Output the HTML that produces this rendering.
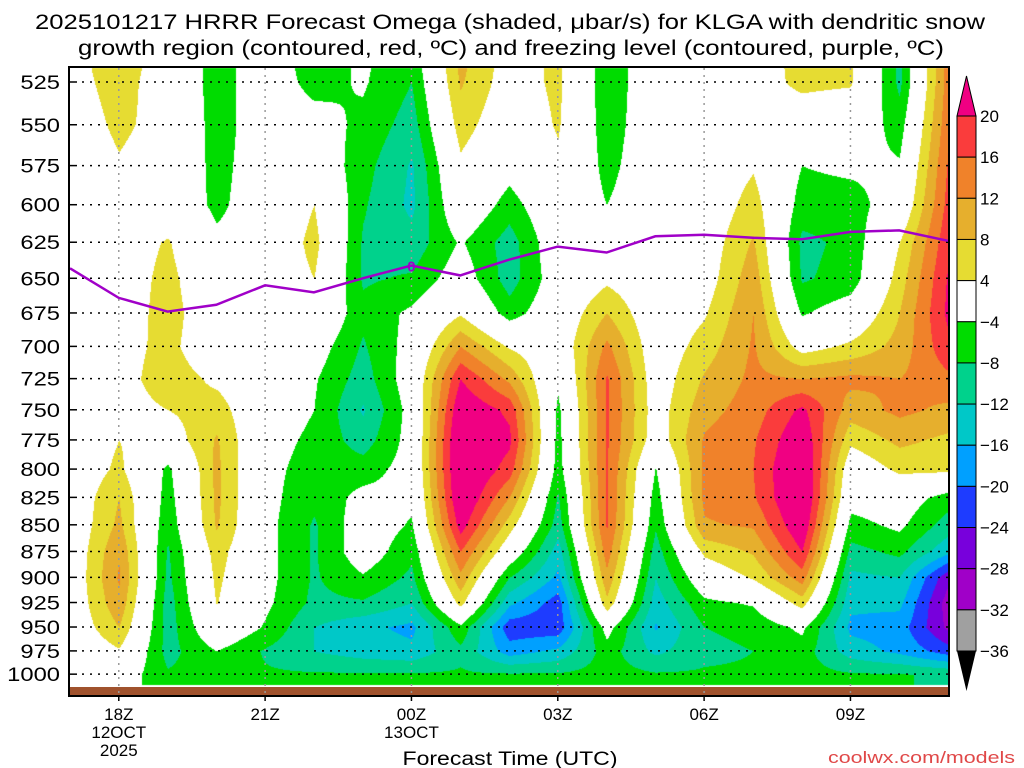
<!DOCTYPE html>
<html><head><meta charset="utf-8"><style>
html,body{margin:0;padding:0;background:#fff;width:1024px;height:768px;overflow:hidden}
#wrap{position:relative;width:1024px;height:768px}
canvas,svg{position:absolute;left:0;top:0}
text{font-family:"Liberation Sans",sans-serif;fill:#000}
</style></head><body>
<div id="wrap">
<canvas id="cv" width="1024" height="768"></canvas>
<svg id="sv" width="1024" height="768"></svg>
</div>
<script>
// ---- data ----
const hours = [17,18,19,20,21,22,23,24,25,26,27,28,29,30,31,32,33,34,35];
const levels = [500,525,550,575,600,625,650,675,700,725,750,775,800,825,850,875,900,925,950,975,1000];
// omega (microbar/s) per forecast hour, values ordered by levels above
const omegaByHour = [
[2,2,1,0,0,0,0,0,0,0,0,0,0,0,0,0,0,0,0,-1,-2],
[8,6,5,3.5,2,1,1,1,2,2,2,4,5,8,9,11.5,12.5,11,8,3.5,-1],
[1,1,2,1,0,4.5,5.5,6,5.5,6.5,4,1,-5,-6,-7,-8.5,-9,-10,-10,-9.5,-7.5],
[-6,-6,-6,-5.5,-5,-3,-1,0,-0.5,3,6,8.5,9,9,8.5,6,5,4.2,1,-4,-6],
[-1,-1,-1,-1,-1,-1,0,0,0,0,-1,-2,-2.5,-2.5,-2.5,-2.5,-2.5,-3,-4.5,-8.5,-7.5],
[-7,-5.5,-2,0,4,5.5,4,2,-1.5,-3.5,-4,-5,-6,-7,-8.5,-8.5,-8.5,-9,-12,-12,-7.5],
[-3,-3.5,-5,-6.5,-7.5,-8.5,-8.5,-7,-8.5,-10,-12.5,-10,-6,-2.5,-1,-1,-4.5,-8.5,-15,-14,-7.5],
[-6,-8,-10,-12.5,-13,-10.5,-7.5,-3,-2,-1,-2,-2,-2,-3,-4.5,-7,-9,-12,-17,-15,-7.5],
[10,8.5,6,3,1,-3.5,-1,3.5,12,20,24,26,26,25,22,16,11,5.5,-5,-9,-7.5],
[2,1.5,0,-2,-6,-10,-10,-6,3.5,11,19,21,18,12,6,0,-8,-15,-22.5,-18,-7.5],
[5,5,4.5,3,1,0,-1,0,0,-3,-5,-5.5,-6,-8.5,-10,-14,-17,-22,-22.5,-15,-7.5],
[-7,-7,-6.5,-5.5,-4,0,3,8,13,16.5,16.5,16.5,16.5,16.5,16.5,14,11,7,-2,-6,-6.5],
[0,0,0,0,0,0,0,0,0.5,1,1.5,1,-4.2,-6,-7.5,-10,-12,-14,-16.5,-13,-7.5],
[0,0,0,0,0,1,1.5,3.5,6,8.5,10.5,12.5,13,13,11.5,5,0,-5,-8,-9,-7.5],
[1,2,2,3.5,6,8.5,10.5,12,12.5,13,14,15.5,16,15.5,12.5,8.5,4.5,-3.5,-7,-8,-7.5],
[6,5,1,-4,-6,-9,-8.5,-4.5,2,12,21,24,26,26,24,20,14,6,-3,-6,-6.5],
[4.5,4.5,0,-3,-6,-7,-6.5,-1,5,13,10,5,0,-2,-5.5,-9.5,-13,-15,-17,-14,-7.5],
[-9,-9,-6,-3.5,-1,4,6,8,9.5,12,13,9,5,-1,-3,-7,-12,-15,-18,-17,-7.8],
[14,14,15,16.5,17.5,19,20.5,21,19,15,11,7,5,-6,-10,-15,-27,-30,-29,-22,-8.5]
];
const freezeLevel = [643,664,674,669,655,660,650,641,648,637,628,632,621,620,622,623,618,617,624];
const yTickLabels = [525,550,575,600,625,650,675,700,725,750,775,800,825,850,875,900,925,950,975,1000];
const xTickHours = [18,21,24,27,30,33];
const xTickLabels = ["18Z","21Z","00Z","03Z","06Z","09Z"];
const cbValues = [20,16,12,8,4,-4,-8,-12,-16,-20,-24,-28,-32,-36];
const cbLabels = ["20","16","12","8","4","\u22124","\u22128","\u221212","\u221216","\u221220","\u221224","\u221228","\u221232","\u221236"];
const binColors = ["#a0a0a0","#a000c8","#7800dc","#1e3cff","#00a0ff","#00c8c8","#00d28c","#00dc00","#ffffff","#e6dc32","#e6af2d","#f0822a","#fa3c3c"];

// ---- axes ----
const X0=70, X1=948, Y0=68, Y1=695;
function xOf(h){return X0+(h-17)*(X1-X0)/18;}
function yOf(p){return 82+919*Math.log(p/525);}
function pOf(y){return 525*Math.exp((y-82)/919);}
function colorFor(v){
  if(v>=20) return "#f00082";
  if(v<-36) return "#000000";
  if(v>=-4 && v<4) return "#ffffff";
  if(v>=4) return binColors[9+Math.min(3,Math.floor((v-4)/4))];
  return binColors[Math.max(0,Math.floor((v+36)/4))];
}
function hexRGB(c){return [parseInt(c.substr(1,2),16),parseInt(c.substr(3,2),16),parseInt(c.substr(5,2),16)];}

// ---- shading ----
const cv=document.getElementById('cv');
const ctx=cv.getContext('2d');
ctx.fillStyle="#fff";ctx.fillRect(0,0,1024,768);
const img=ctx.getImageData(0,0,1024,768);
const yData=685;
for(let y=Y0;y<yData;y++){
  let ri=(pOf(y)-levels[0])/25; ri=Math.max(0,Math.min(levels.length-1,ri));
  const r0=Math.min(levels.length-2,Math.floor(ri)), fr=ri-r0;
  for(let x=X0;x<=X1;x++){
    let hi=(x-X0)/((X1-X0)/18); hi=Math.max(0,Math.min(hours.length-1,hi));
    const c0=Math.min(hours.length-2,Math.floor(hi)), fc=hi-c0;
    const a=omegaByHour[c0][r0],b=omegaByHour[c0+1][r0],c=omegaByHour[c0][r0+1],d=omegaByHour[c0+1][r0+1];
    const v=(a*(1-fc)+b*fc)*(1-fr)+(c*(1-fc)+d*fc)*fr;
    const rgb=hexRGB(colorFor(v));
    const i=(y*1024+x)*4;
    img.data[i]=rgb[0];img.data[i+1]=rgb[1];img.data[i+2]=rgb[2];img.data[i+3]=255;
  }
}
ctx.putImageData(img,0,0);

// ---- overlay ----
const NS="http://www.w3.org/2000/svg";
const sv=document.getElementById('sv');
function mk(tag,attrs,parent){const e=document.createElementNS(NS,tag);for(const k in attrs)e.setAttribute(k,attrs[k]);(parent||sv).appendChild(e);return e;}

const ground=mk('rect',{x:X0,y:687,width:X1-X0,height:Y1-687,fill:'#a0522d'});



yTickLabels.forEach(p=>{
  const y=yOf(p);
  const g=mk('line',{x1:X0+12,x2:X1,y1:y,y2:y,stroke:'#000','stroke-width':1.5,'stroke-dasharray':'2 6'});
  
  
  const tk=mk('line',{x1:X0,x2:X0+7,y1:y,y2:y,stroke:'#000','stroke-width':1.5});
  
  
  const s=String(p);
  const t=mk('text',{x:60,y:y+7,'text-anchor':'end','font-size':19,textLength:s.length*13.2,lengthAdjust:'spacingAndGlyphs'});
  t.textContent=s;
  
  
});
xTickHours.forEach((h,i)=>{
  const x=xOf(h);
  const g=mk('line',{x1:x,x2:x,y1:Y0,y2:Y1,stroke:'#999','stroke-width':1.5,'stroke-dasharray':'2 5'});
  
  
  const tk=mk('line',{x1:x,x2:x,y1:Y1,y2:Y1+6,stroke:'#000','stroke-width':1.5});
  
  
  const t=mk('text',{x:x,y:720,'text-anchor':'middle','font-size':17});
  t.textContent=xTickLabels[i];
  
  
});
const dateLbls=[[18,"12OCT"],[18,"2025",1],[24,"13OCT"]];
dateLbls.forEach(d=>{
  const t=mk('text',{x:xOf(d[0]),y:d[2]?756:738,'text-anchor':'middle','font-size':17});
  t.textContent=d[1];
  
  
});

const pts=hours.map((h,i)=>xOf(h).toFixed(1)+','+yOf(freezeLevel[i]).toFixed(1)).join(' ');
const fl=mk('polyline',{points:pts,fill:'none',stroke:'#a000c8','stroke-width':2.5});


const zl=mk('text',{x:xOf(24),y:yOf(freezeLevel[7])+6,'text-anchor':'middle','font-size':15,'font-weight':'bold',style:'fill:#a000c8'});
zl.textContent='0';



const fr=mk('rect',{x:X0-1,y:Y0-1,width:X1-X0+2,height:Y1-Y0+2,fill:'none',stroke:'#000','stroke-width':2});



const CBX=957, CBW=19, CBT=116, CBB=651;
const step=(CBB-CBT)/13;
for(let k=0;k<13;k++){
  const r=mk('rect',{x:CBX,y:CBT+k*step,width:CBW,height:step,fill:binColors[12-k],stroke:'#000','stroke-width':1});
  
  
}
const tri1=mk('polygon',{points:`${CBX},${CBT} ${CBX+CBW},${CBT} ${CBX+CBW/2},76`,fill:'#f00082',stroke:'#000','stroke-width':1});


const tri2=mk('polygon',{points:`${CBX},${CBB} ${CBX+CBW},${CBB} ${CBX+CBW/2},691`,fill:'#000'});


cbValues.forEach((v,i)=>{
  const t=mk('text',{x:980,y:CBT+i*step+6,'font-size':17});
  t.textContent=cbLabels[i];
  
  
});

const t1=mk('text',{x:510,y:29,'text-anchor':'middle','font-size':21,textLength:950,lengthAdjust:'spacingAndGlyphs'});
t1.textContent='2025101217 HRRR Forecast Omega (shaded, \u03bcbar/s) for KLGA with dendritic snow';


const t2=mk('text',{x:511,y:55,'text-anchor':'middle','font-size':21,textLength:866,lengthAdjust:'spacingAndGlyphs'});
t2.textContent='growth region (contoured, red, \u00baC) and freezing level (contoured, purple, \u00baC)';


const xt=mk('text',{x:510,y:765,'text-anchor':'middle','font-size':19,textLength:215,lengthAdjust:'spacingAndGlyphs'});
xt.textContent='Forecast Time (UTC)';


const cr=mk('text',{x:1015,y:763,'text-anchor':'end','font-size':17,textLength:187,lengthAdjust:'spacingAndGlyphs',style:'fill:#e04848'});
cr.textContent='coolwx.com/models';


</script>
</body></html>
